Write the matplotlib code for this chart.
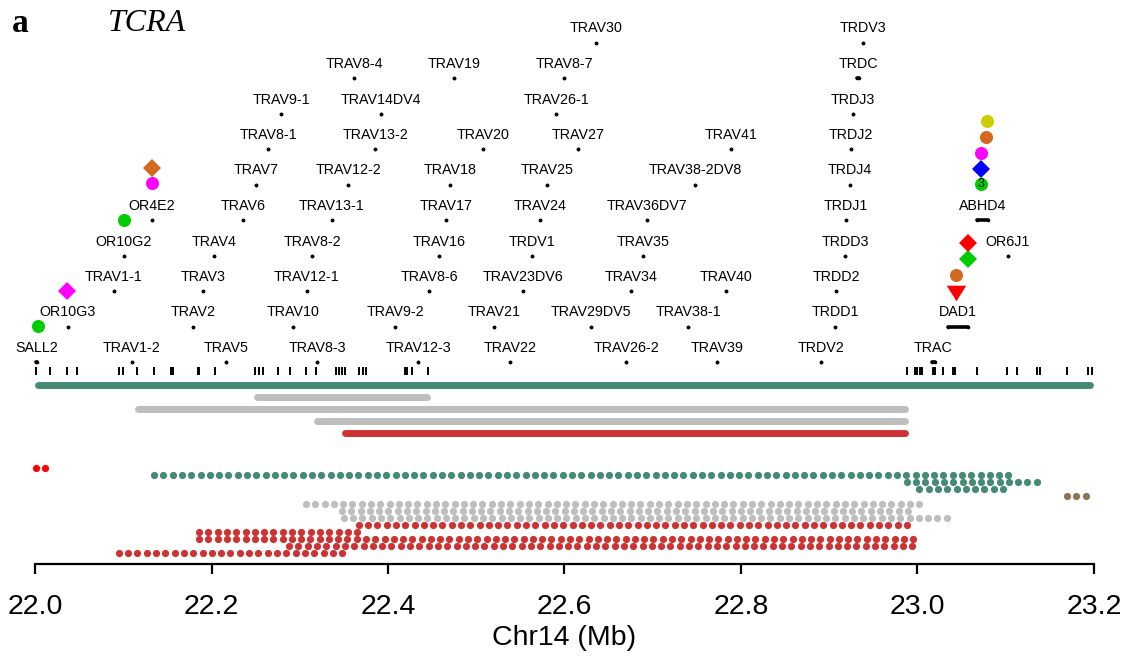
import numpy as np
import matplotlib.pyplot as plt

plt.rcParams['font.family'] = ['Liberation Sans', 'DejaVu Sans']

# genes on chr14 (Mb) and the stacking row of their label
gene_names = ['SALL2', 'TRAV1-2', 'TRAV5', 'TRAV8-3', 'TRAV12-3', 'TRAV22', 'TRAV26-2', 'TRAV39', 'TRDV2', 'TRAC',
              'OR10G3', 'TRAV2', 'TRAV10', 'TRAV9-2', 'TRAV21', 'TRAV29DV5', 'TRAV38-1', 'TRDD1', 'DAD1',
              'TRAV1-1', 'TRAV3', 'TRAV12-1', 'TRAV8-6', 'TRAV23DV6', 'TRAV34', 'TRAV40', 'TRDD2',
              'OR10G2', 'TRAV4', 'TRAV8-2', 'TRAV16', 'TRDV1', 'TRAV35', 'TRDD3', 'OR6J1',
              'OR4E2', 'TRAV6', 'TRAV13-1', 'TRAV17', 'TRAV24', 'TRAV36DV7', 'TRDJ1', 'ABHD4',
              'TRAV7', 'TRAV12-2', 'TRAV18', 'TRAV25', 'TRAV38-2DV8', 'TRDJ4',
              'TRAV8-1', 'TRAV13-2', 'TRAV20', 'TRAV27', 'TRAV41', 'TRDJ2',
              'TRAV9-1', 'TRAV14DV4', 'TRAV26-1', 'TRDJ3',
              'TRAV8-4', 'TRAV19', 'TRAV8-7', 'TRDC',
              'TRAV30', 'TRDV3']
gene_start = [22.0015, 22.1099, 22.2164, 22.3195, 22.4340, 22.5382, 22.6697, 22.7728, 22.8907, 23.0164,
              22.0374, 22.1790, 22.2924, 22.4079, 22.5201, 22.6300, 22.7399, 22.9065, 23.0346,
              22.0895, 22.1904, 22.3082, 22.4465, 22.5530, 22.6754, 22.7830, 22.9076,
              22.1008, 22.2028, 22.3139, 22.4578, 22.5632, 22.6890, 22.9178, 23.1025,
              22.1326, 22.2357, 22.3365, 22.4657, 22.5722, 22.6935, 22.9190, 23.0674,
              22.2504, 22.3547, 22.4702, 22.5802, 22.7479, 22.9235,
              22.2640, 22.3853, 22.5076, 22.6153, 22.7886, 22.9246,
              22.2787, 22.3921, 22.5904, 22.9269,
              22.3615, 22.4748, 22.5994, 22.9314,
              22.6357, 22.9382]
gene_end = [22.0026, 22.1099, 22.2164, 22.3195, 22.4340, 22.5382, 22.6697, 22.7728, 22.8907, 23.0198,
            22.0374, 22.1790, 22.2924, 22.4079, 22.5201, 22.6300, 22.7399, 22.9065, 23.0572,
            22.0895, 22.1904, 22.3082, 22.4465, 22.5530, 22.6754, 22.7830, 22.9076,
            22.1008, 22.2028, 22.3139, 22.4578, 22.5632, 22.6890, 22.9178, 23.1025,
            22.1326, 22.2357, 22.3365, 22.4657, 22.5722, 22.6935, 22.9190, 23.0799,
            22.2504, 22.3547, 22.4702, 22.5802, 22.7479, 22.9235,
            22.2640, 22.3853, 22.5076, 22.6153, 22.7886, 22.9246,
            22.2787, 22.3921, 22.5904, 22.9269,
            22.3615, 22.4748, 22.5994, 22.9337,
            22.6357, 22.9382]
gene_row = [0] * 10 + [1] * 9 + [2] * 8 + [3] * 8 + [4] * 8 + [5] * 6 + [6] * 6 + [7] * 4 + [8] * 4 + [9] * 2

# exon ticks
exon_pos = [22.001, 22.017, 22.036, 22.048, 22.095, 22.100, 22.116, 22.135, 22.154, 22.156,
            22.185, 22.186, 22.204, 22.249, 22.254, 22.258, 22.275, 22.289, 22.307, 22.318,
            22.341, 22.344, 22.348, 22.351, 22.367, 22.372, 22.375, 22.419, 22.422, 22.427,
            22.445, 22.988, 22.997, 22.999, 23.003, 23.005, 23.018, 23.020, 23.029, 23.040,
            23.043, 23.067, 23.101, 23.113, 23.135, 23.139, 23.169, 23.193, 23.198]

# variant markers stacked above genes
marker_x = [22.0034, 22.0363, 22.1008, 22.1326, 22.1326, 23.0719, 23.0719, 23.0719, 23.0776, 23.0787,
            23.0436, 23.0436, 23.0572, 23.0572]
marker_level = [1.01, 2.0, 4.0, 5.04, 5.46, 5.01, 5.44, 5.89, 6.34, 6.79, 1.94, 2.45, 2.90, 3.35]
marker_kind = ['green_circle', 'magenta_diamond', 'green_circle', 'magenta_circle', 'orange_diamond',
               'green_circle', 'blue_diamond', 'magenta_circle', 'orange_circle', 'yellow_circle',
               'red_triangle', 'orange_circle', 'green_diamond', 'red_diamond']
marker_note = ['', '', '', '', '', '3', '', '', '', '', '', '', '', '']

# deletion segments
bar_start = [22.003, 22.251, 22.117, 22.320, 22.351]
bar_end = [23.196, 22.444, 22.986, 22.986, 22.986]
bar_group = ['green', 'gray', 'gray', 'gray', 'red']

# dotted segments, one per track
dot_start = [22.001, 22.135, 22.988, 23.002, 23.169, 22.307, 22.348, 22.350, 22.367, 22.186, 22.186, 22.288, 22.095]
dot_end = [22.011, 23.103, 23.135, 23.097, 23.191, 23.002, 22.989, 23.033, 22.988, 22.365, 22.995, 22.994, 22.348]
dot_group = ['bright', 'green', 'green', 'green', 'brown', 'gray', 'gray', 'gray', 'red', 'red', 'red', 'red', 'red']

colors = {'green': '#458B74', 'gray': '#BEBEBE', 'red': '#CD3333', 'bright': '#FF0000', 'brown': '#8B7355'}
kinds = {
    'green_circle': ('o', '#00CD00'), 'magenta_circle': ('o', '#FF00FF'), 'orange_circle': ('o', '#D2691E'),
    'yellow_circle': ('o', '#CDCD00'), 'magenta_diamond': ('D', '#FF00FF'), 'orange_diamond': ('D', '#D2691E'),
    'blue_diamond': ('D', '#0000FF'), 'green_diamond': ('D', '#00CD00'), 'red_diamond': ('D', '#FF0000'),
    'red_triangle': ([(-1, 0.8), (1, 0.8), (0, -0.8)], '#FF0000'),
}


def level_y(level):
    return 362 - 35.5 * level


fig = plt.figure(figsize=(11.28, 6.61), dpi=100)
ax = fig.add_axes([35 / 1128, 97 / 661, 1059 / 1128, 564 / 661])
ax.set_xlim(22.0, 23.2)
ax.set_ylim(564, 0)
for s in ['top', 'left', 'right']:
    ax.spines[s].set_visible(False)
ax.spines['bottom'].set_linewidth(1.6)
ax.set_yticks([])
ticks = np.arange(22.0, 23.21, 0.2)
ax.set_xticks(ticks)
ax.set_xticklabels([f'{t:.1f}' for t in ticks])
ax.tick_params(axis='x', direction='out', length=7.5, width=1.6, labelsize=20.5, pad=14)
ax.set_xlabel('Chr14 (Mb)', fontsize=20.5, labelpad=4)

# genes
for name, s, e, r in zip(gene_names, gene_start, gene_end, gene_row):
    y = level_y(r)
    ax.plot([s, e], [y, y], color='black', lw=2.6, solid_capstyle='round',
            marker='o', ms=2.6, mew=0, clip_on=False)
    ax.annotate(name, ((s + e) / 2, y), xytext=(0, 7.2), textcoords='offset points',
                ha='center', va='baseline', fontsize=10.3)

ax.vlines(exon_pos, 367, 374.5, color='black', lw=1.4)

for x, lv, k, note in zip(marker_x, marker_level, marker_kind, marker_note):
    m, c = kinds[k]
    ms = 9.4 if m == 'o' else (9 if m == 'D' else 14)
    ax.plot(x, level_y(lv), marker=m, color=c, ms=ms, mew=0, clip_on=False)
    if note:
        ax.text(x, level_y(lv), note, ha='center', va='center', fontsize=9)

for i, (s, e, g) in enumerate(zip(bar_start, bar_end, bar_group)):
    y = 384.5 + 12.2 * i
    ax.plot([s, e], [y, y], color=colors[g], lw=5, solid_capstyle='round', clip_on=False)

step = 0.01057
for i, (s, e, g) in enumerate(zip(dot_start, dot_end, dot_group)):
    n = int(round((e - s) / step)) + 1
    xs = np.linspace(s, e, n)
    ax.plot(xs, np.full(n, 468 + 7.1 * i), 'o', color=colors[g], ms=5.2, mew=0, clip_on=False)

fig.text(12 / 1128, 1 - 32 / 661, 'a', fontsize=24, fontweight='bold', family='Liberation Serif', va='baseline')
fig.text(108 / 1128, 1 - 31 / 661, 'TCRA', fontsize=23, style='italic', family='Liberation Serif', va='baseline')

fig.savefig('out.png', dpi=100)
